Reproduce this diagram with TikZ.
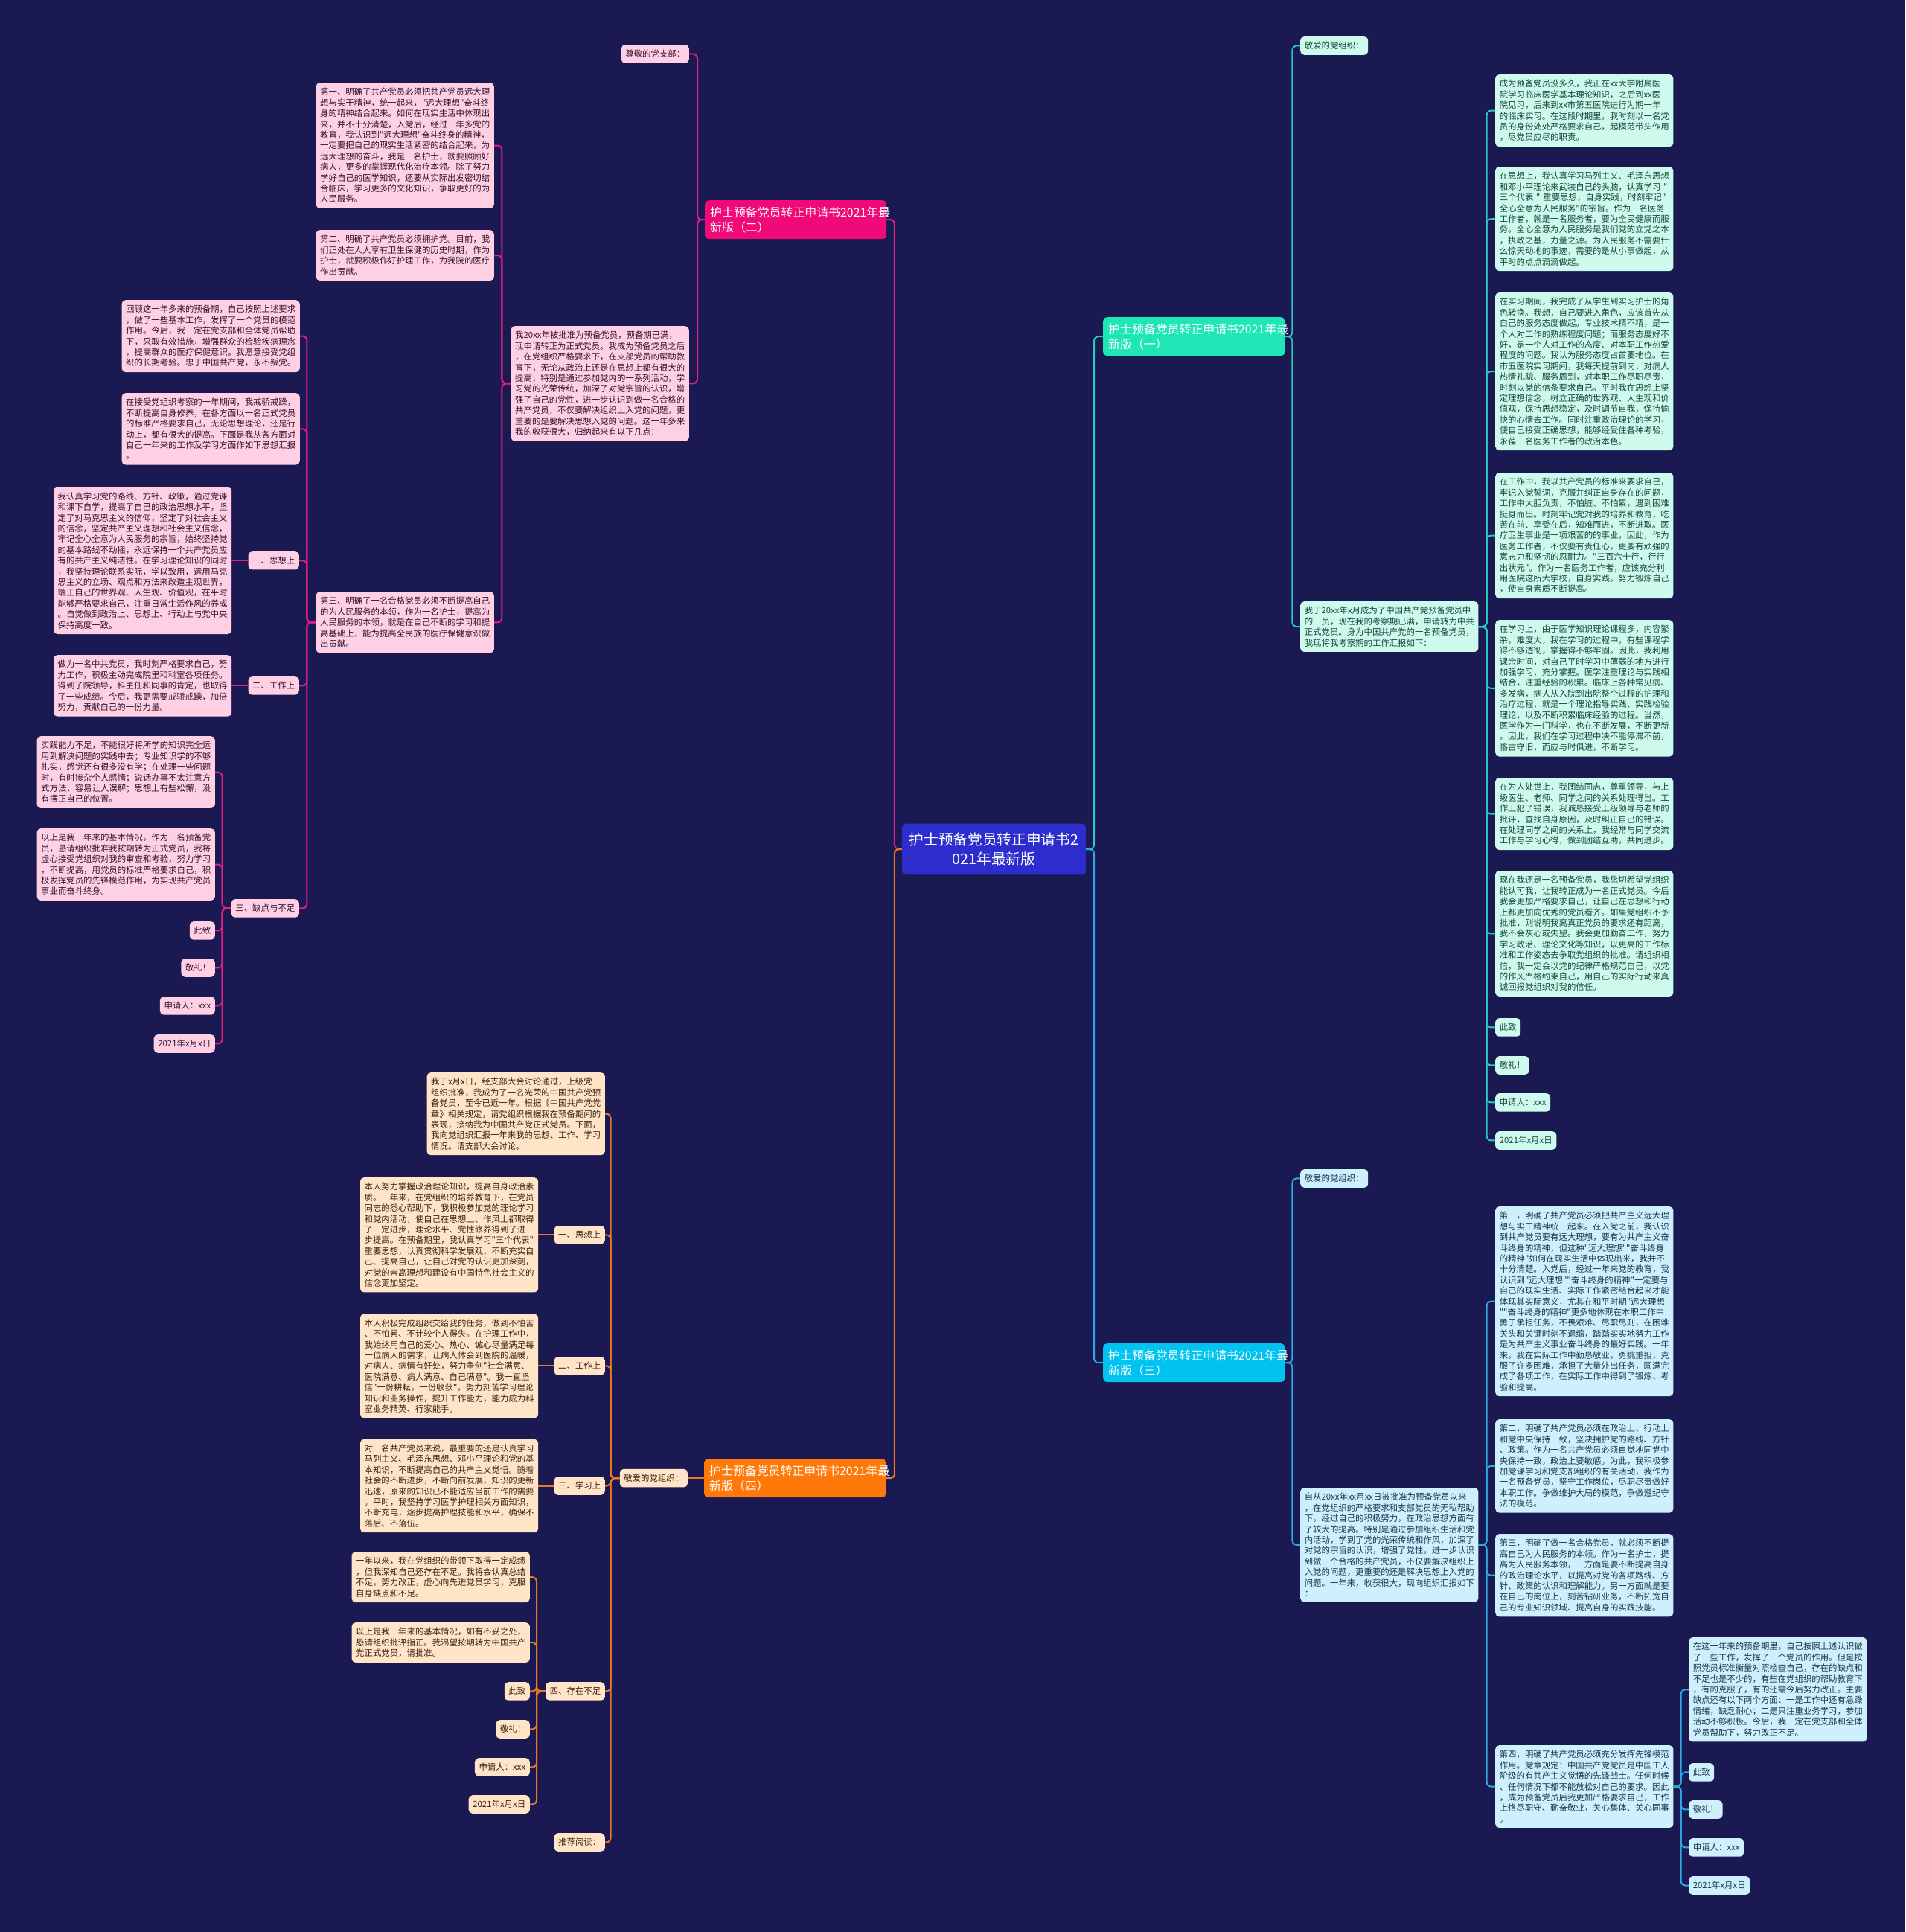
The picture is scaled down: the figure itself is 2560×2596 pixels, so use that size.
\documentclass[tikz,border=0pt]{standalone}
\usepackage{fontspec}
\newfontfamily\cjk{Noto Sans CJK SC}
\usetikzlibrary{positioning}
\definecolor{bgnavy}{RGB}{26,25,82}
\definecolor{rootblue}{RGB}{45,45,205}
\definecolor{pinkhead}{RGB}{240,10,120}
\definecolor{pinkline}{RGB}{225,30,130}
\definecolor{pinkfill}{RGB}{255,208,228}
\definecolor{pinktext}{RGB}{50,20,45}
\definecolor{tealhead}{RGB}{30,230,180}
\definecolor{tealline}{RGB}{40,200,190}
\definecolor{tealfill}{RGB}{205,250,236}
\definecolor{tealtext}{RGB}{25,70,60}
\definecolor{bluehead}{RGB}{0,195,240}
\definecolor{blueline}{RGB}{40,170,230}
\definecolor{bluefill}{RGB}{205,240,252}
\definecolor{bluetext}{RGB}{25,55,80}
\definecolor{orangehead}{RGB}{255,120,10}
\definecolor{orangeline}{RGB}{235,120,40}
\definecolor{orangefill}{RGB}{255,228,200}
\definecolor{orangetext}{RGB}{60,35,15}

\begin{document}
\begin{tikzpicture}[
  x=1pt, y=-1pt,
  rootbox/.style={fill=rootblue, rounded corners=5pt, inner xsep=9.5pt, inner ysep=12pt, align=center, text=white, font=\cjk\fontsize{19.7}{26.5}\selectfont},
  topicbox/.style={rounded corners=5pt, inner xsep=7pt, inner ysep=8.5pt, text width=230pt, align=left, text=white, font=\cjk\fontsize{15.9}{20}\selectfont},
  leafbox/.style={rounded corners=5pt, inner xsep=5.6pt, inner ysep=7pt, align=left, font=\cjk\fontsize{11.4}{14.4}\selectfont},
  parabox/.style={leafbox, text width=228pt},
  pinkbox/.style={fill=pinkfill, text=pinktext},
  tealbox/.style={fill=tealfill, text=tealtext},
  bluebox/.style={fill=bluefill, text=bluetext},
  orangebox/.style={fill=orangefill, text=orangetext},
  link/.style={line width=2pt, rounded corners=6pt}
]
  \fill[bgnavy] (0,0) rectangle (2560,2596);
  \useasboundingbox (0,0) rectangle (2560,2596);

  % centre and the four topics
  \node[rootbox] (ROOT) at (1335.5,1141) {护士预备党员转正申请书2\\021年最新版};
  \node[topicbox, fill=tealhead, anchor=north west] (B1) at (1482,426) {护士预备党员转正申请书2021年最\\新版（一）};
  \node[topicbox, fill=pinkhead, anchor=north west] (B2) at (947,269) {护士预备党员转正申请书2021年最\\新版（二）};
  \node[topicbox, fill=bluehead, anchor=north west] (B3) at (1482,1805) {护士预备党员转正申请书2021年最\\新版（三）};
  \node[topicbox, fill=orangehead, anchor=north west] (B4) at (946,1960) {护士预备党员转正申请书2021年最\\新版（四）};

  % (二)
  \node[leafbox, pinkbox, anchor=north east] (P1) at (926,60) {尊敬的党支部：};
  \node[parabox, pinkbox, anchor=north east] (P2) at (926,438) {我20xx年被批准为预备党员，预备期已满，\\现申请转正为正式党员。我成为预备党员之后\\，在党组织严格要求下，在支部党员的帮助教\\育下，无论从政治上还是在思想上都有很大的\\提高，特别是通过参加党内的一系列活动，学\\习党的光荣传统，加深了对党宗旨的认识，增\\强了自己的党性，进一步认识到做一名合格的\\共产党员，不仅要解决组织上入党的问题，更\\重要的是要解决思想入党的问题。这一年多来\\我的收获很大，归纳起来有以下几点：};
  \node[parabox, pinkbox, anchor=north east] (P3) at (664,111) {第一、明确了共产党员必须把共产党员远大理\\想与实干精神，统一起来，"远大理想"奋斗终\\身的精神结合起来。如何在现实生活中体现出\\来，并不十分清楚，入党后，经过一年多党的\\教育，我认识到"远大理想"奋斗终身的精神，\\一定要把自己的现实生活紧密的结合起来，为\\远大理想的奋斗，我是一名护士，就要照顾好\\病人，更多的掌握现代化治疗本领。除了努力\\学好自己的医学知识，还要从实际出发密切结\\合临床，学习更多的文化知识，争取更好的为\\人民服务。};
  \node[parabox, pinkbox, anchor=north east] (P4) at (664,309) {第二、明确了共产党员必须拥护党。目前，我\\们正处在人人享有卫生保健的历史时期，作为\\护士，就要积极作好护理工作，为我院的医疗\\作出贡献。};
  \node[parabox, pinkbox, anchor=north east] (P5) at (664,795) {第三、明确了一名合格党员必须不断提高自己\\的为人民服务的本领，作为一名护士，提高为\\人民服务的本领，就是在自己不断的学习和提\\高基础上，能为提高全民族的医疗保健意识做\\出贡献。};
  \node[parabox, pinkbox, anchor=north east] (P6) at (403,403) {回顾这一年多来的预备期，自己按照上述要求\\，做了一些基本工作，发挥了一个党员的模范\\作用。今后，我一定在党支部和全体党员帮助\\下，采取有效措施，增强群众的检验疾病理念\\，提高群众的医疗保健意识。我愿意接受党组\\织的长期考验。忠于中国共产党，永不叛党。};
  \node[parabox, pinkbox, anchor=north east] (P7) at (403,528) {在接受党组织考察的一年期间，我戒骄戒躁，\\不断提高自身修养，在各方面以一名正式党员\\的标准严格要求自己，无论思想理论，还是行\\动上，都有很大的提高。下面是我从各方面对\\自己一年来的工作及学习方面作如下思想汇报\\。};
  \node[leafbox, pinkbox, anchor=north east] (P8) at (402,741) {一、思想上};
  \node[parabox, pinkbox, left=22pt of P8] (P9) {我认真学习党的路线、方针、政策，通过党课\\和课下自学，提高了自己的政治思想水平，坚\\定了对马克思主义的信仰，坚定了对社会主义\\的信念，坚定共产主义理想和社会主义信念，\\牢记全心全意为人民服务的宗旨，始终坚持党\\的基本路线不动摇，永远保持一个共产党员应\\有的共产主义纯洁性。在学习理论知识的同时\\，我坚持理论联系实际，学以致用，运用马克\\思主义的立场、观点和方法来改造主观世界，\\端正自己的世界观、人生观、价值观，在平时\\能够严格要求自己，注重日常生活作风的养成\\。自觉做到政治上、思想上、行动上与党中央\\保持高度一致。};
  \node[leafbox, pinkbox, anchor=north east] (P10) at (402,909) {二、工作上};
  \node[parabox, pinkbox, left=22pt of P10] (P11) {做为一名中共党员，我时刻严格要求自己，努\\力工作，积极主动完成院里和科室各项任务。\\得到了院领导，科主任和同事的肯定，也取得\\了一些成绩。今后，我更需要戒骄戒躁，加倍\\努力，贡献自己的一份力量。};
  \node[leafbox, pinkbox, anchor=north east] (P12) at (402,1208) {三、缺点与不足};
  \node[parabox, pinkbox, anchor=north east] (P13) at (289,989) {实践能力不足，不能很好将所学的知识完全运\\用到解决问题的实践中去；专业知识学的不够\\扎实，感觉还有很多没有学；在处理一些问题\\时，有时掺杂个人感情；说话办事不太注意方\\式方法，容易让人误解；思想上有些松懈，没\\有摆正自己的位置。};
  \node[parabox, pinkbox, anchor=north east] (P14) at (289,1113) {以上是我一年来的基本情况，作为一名预备党\\员，恳请组织批准我按期转为正式党员，我将\\虚心接受党组织对我的审查和考验，努力学习\\，不断提高，用党员的标准严格要求自己，积\\极发挥党员的先锋模范作用，为实现共产党员\\事业而奋斗终身。};
  \node[leafbox, pinkbox, anchor=north east] (P15) at (289,1238) {此致};
  \node[leafbox, pinkbox, anchor=north east] (P16) at (289,1288) {敬礼！};
  \node[leafbox, pinkbox, anchor=north east] (P17) at (289,1339) {申请人：xxx};
  \node[leafbox, pinkbox, anchor=north east] (P18) at (289,1390) {2021年x月x日};

  % (一)
  \node[leafbox, tealbox, anchor=north west] (T1) at (1747,49) {敬爱的党组织：};
  \node[parabox, tealbox, anchor=north west] (T2) at (1747,808) {我于20xx年x月成为了中国共产党预备党员中\\的一员，现在我的考察期已满，申请转为中共\\正式党员。身为中国共产党的一名预备党员，\\我现将我考察期的工作汇报如下：};
  \node[parabox, tealbox, anchor=north west] (T3) at (2009,100) {成为预备党员没多久，我正在xx大学附属医\\院学习临床医学基本理论知识，之后到xx医\\院见习，后来到xx市第五医院进行为期一年\\的临床实习。在这段时期里，我时刻以一名党\\员的身份处处严格要求自己，起模范带头作用\\，尽党员应尽的职责。};
  \node[parabox, tealbox, anchor=north west] (T4) at (2009,224) {在思想上，我认真学习马列主义、毛泽东思想\\和邓小平理论来武装自己的头脑，认真学习 "\\三个代表 " 重要思想，自身实践，时刻牢记"\\全心全意为人民服务"的宗旨。作为一名医务\\工作者，就是一名服务者，要为全民健康而服\\务。全心全意为人民服务是我们党的立党之本\\，执政之基，力量之源。为人民服务不需要什\\么惊天动地的事迹，需要的是从小事做起，从\\平时的点点滴滴做起。};
  \node[parabox, tealbox, anchor=north west] (T5) at (2009,393) {在实习期间，我完成了从学生到实习护士的角\\色转换。我想，自己要进入角色，应该首先从\\自己的服务态度做起。专业技术精不精，是一\\个人对工作的熟练程度问题；而服务态度好不\\好，是一个人对工作的态度、对本职工作热爱\\程度的问题。我认为服务态度占首要地位。在\\市五医院实习期间，我每天提前到岗，对病人\\热情礼貌、服务周到，对本职工作尽职尽责，\\时刻以党的信条要求自己。平时我在思想上坚\\定理想信念，树立正确的世界观、人生观和价\\值观，保持思想稳定，及时调节自我，保持愉\\快的心情去工作。同时注重政治理论的学习，\\使自己接受正确思想，能够经受住各种考验，\\永葆一名医务工作者的政治本色。};
  \node[parabox, tealbox, anchor=north west] (T6) at (2009,635) {在工作中，我以共产党员的标准来要求自己，\\牢记入党誓词，克服并纠正自身存在的问题，\\工作中大胆负责，不怕脏、不怕累，遇到困难\\挺身而出。时刻牢记党对我的培养和教育，吃\\苦在前、享受在后，知难而进，不断进取。医\\疗卫生事业是一项艰苦的的事业，因此，作为\\医务工作者，不仅要有责任心，更要有顽强的\\意志力和坚韧的忍耐力。"三百六十行，行行\\出状元"。作为一名医务工作者，应该充分利\\用医院这所大学校，自身实践，努力锻炼自己\\，使自身素质不断提高。};
  \node[parabox, tealbox, anchor=north west] (T7) at (2009,833) {在学习上，由于医学知识理论课程多，内容繁\\杂，难度大，我在学习的过程中，有些课程学\\得不够透彻，掌握得不够牢固。因此，我利用\\课余时间，对自己平时学习中薄弱的地方进行\\加强学习，充分掌握。医学注重理论与实践相\\结合，注重经验的积累。临床上各种常见病、\\多发病，病人从入院到出院整个过程的护理和\\治疗过程，就是一个理论指导实践、实践检验\\理论，以及不断积累临床经验的过程。当然，\\医学作为一门科学，也在不断发展，不断更新\\。因此，我们在学习过程中决不能停滞不前，\\恪古守旧，而应与时俱进，不断学习。};
  \node[parabox, tealbox, anchor=north west] (T8) at (2009,1045) {在为人处世上，我团结同志，尊重领导，与上\\级医生、老师、同学之间的关系处理得当。工\\作上犯了错误，我诚恳接受上级领导与老师的\\批评，查找自身原因，及时纠正自己的错误。\\在处理同学之间的关系上，我经常与同学交流\\工作与学习心得，做到团结互助，共同进步。};
  \node[parabox, tealbox, anchor=north west] (T9) at (2009,1170) {现在我还是一名预备党员，我恳切希望党组织\\能认可我，让我转正成为一名正式党员。今后\\我会更加严格要求自己，让自己在思想和行动\\上都更加向优秀的党员看齐。如果党组织不予\\批准，则说明我离真正党员的要求还有距离，\\我不会灰心或失望。我会更加勤奋工作，努力\\学习政治、理论文化等知识，以更高的工作标\\准和工作姿态去争取党组织的批准。请组织相\\信，我一定会以党的纪律严格规范自己，以党\\的作风严格约束自己，用自己的实际行动来真\\诚回报党组织对我的信任。};
  \node[leafbox, tealbox, anchor=north west] (T10) at (2009,1368) {此致};
  \node[leafbox, tealbox, anchor=north west] (T11) at (2009,1419) {敬礼！};
  \node[leafbox, tealbox, anchor=north west] (T12) at (2009,1469) {申请人：xxx};
  \node[leafbox, tealbox, anchor=north west] (T13) at (2009,1520) {2021年x月x日};

  % (三)
  \node[leafbox, bluebox, anchor=north west] (U1) at (1747,1571) {敬爱的党组织：};
  \node[parabox, bluebox, anchor=north west] (U2) at (1747,1999) {自从20xx年xx月xx日被批准为预备党员以来\\，在党组织的严格要求和支部党员的无私帮助\\下，经过自己的积极努力，在政治思想方面有\\了较大的提高。特别是通过参加组织生活和党\\内活动，学到了党的光荣传统和作风，加深了\\对党的宗旨的认识，增强了党性，进一步认识\\到做一个合格的共产党员，不仅要解决组织上\\入党的问题，更重要的还是解决思想上入党的\\问题。一年来，收获很大，现向组织汇报如下\\：};
  \node[parabox, bluebox, anchor=north west] (U3) at (2009,1621) {第一，明确了共产党员必须把共产主义远大理\\想与实干精神统一起来。在入党之前，我认识\\到共产党员要有远大理想，要有为共产主义奋\\斗终身的精神，但这种"远大理想""奋斗终身\\的精神"如何在现实生活中体现出来，我并不\\十分清楚。入党后，经过一年来党的教育，我\\认识到"远大理想""奋斗终身的精神"一定要与\\自己的现实生活、实际工作紧密结合起来才能\\体现其实际意义，尤其在和平时期"远大理想\\""奋斗终身的精神"更多地体现在本职工作中\\勇于承担任务，不畏艰难、尽职尽则，在困难\\关头和关键时刻不退缩，踏踏实实地努力工作\\是为共产主义事业奋斗终身的最好实践。一年\\来，我在实际工作中勤恳敬业，勇挑重担，克\\服了许多困难，承担了大量外出任务，圆满完\\成了各项工作，在实际工作中得到了锻炼、考\\验和提高。};
  \node[parabox, bluebox, anchor=north west] (U4) at (2009,1907) {第二，明确了共产党员必须在政治上、行动上\\和党中央保持一致，坚决拥护党的路线、方针\\、政策。作为一名共产党员必须自觉地同党中\\央保持一致，政治上要敏感。为此，我积极参\\加党课学习和党支部组织的有关活动，我作为\\一名预备党员，坚守工作岗位，尽职尽责做好\\本职工作。争做维护大局的模范，争做遵纪守\\法的模范。};
  \node[parabox, bluebox, anchor=north west] (U5) at (2009,2061) {第三，明确了做一名合格党员，就必须不断提\\高自己为人民服务的本领。作为一名护士，提\\高为人民服务本领，一方面是要不断提高自身\\的政治理论水平，以提高对党的各项路线、方\\针、政策的认识和理解能力。另一方面就是要\\在自己的岗位上，刻苦钻研业务，不断拓宽自\\己的专业知识领域、提高自身的实践技能。};
  \node[parabox, bluebox, anchor=north west] (U6) at (2009,2345) {第四，明确了共产党员必须充分发挥先锋模范\\作用。党章规定：中国共产党党员是中国工人\\阶级的有共产主义觉悟的先锋战士。任何时候\\、任何情况下都不能放松对自己的要求。因此\\，成为预备党员后我更加严格要求自己，工作\\上恪尽职守、勤奋敬业，关心集体、关心同事\\。};
  \node[parabox, bluebox, anchor=north west] (U7) at (2269,2200) {在这一年来的预备期里，自己按照上述认识做\\了一些工作，发挥了一个党员的作用。但是按\\照党员标准衡量对照检查自己，存在的缺点和\\不足也是不少的，有些在党组织的帮助教育下\\，有的克服了，有的还需今后努力改正。主要\\缺点还有以下两个方面：一是工作中还有急躁\\情绪，缺乏耐心；二是只注重业务学习，参加\\活动不够积极。今后，我一定在党支部和全体\\党员帮助下，努力改正不足。};
  \node[leafbox, bluebox, anchor=north west] (U8) at (2269,2369) {此致};
  \node[leafbox, bluebox, anchor=north west] (U9) at (2269,2419) {敬礼！};
  \node[leafbox, bluebox, anchor=north west] (U10) at (2269,2470) {申请人：xxx};
  \node[leafbox, bluebox, anchor=north west] (U11) at (2269,2521) {2021年x月x日};

  % (四)
  \node[leafbox, orangebox, left=22pt of B4] (O1) {敬爱的党组织：};
  \node[parabox, orangebox, anchor=north east] (O2) at (813,1441) {我于x月x日，经支部大会讨论通过，上级党\\组织批准，我成为了一名光荣的中国共产党预\\备党员，至今已近一年。根据《中国共产党党\\章》相关规定，请党组织根据我在预备期间的\\表现，接纳我为中国共产党正式党员。下面，\\我向党组织汇报一年来我的思想、工作、学习\\情况。请支部大会讨论。};
  \node[leafbox, orangebox, anchor=north east] (O3) at (813,1647) {一、思想上};
  \node[parabox, orangebox, left=21pt of O3] (O4) {本人努力掌握政治理论知识，提高自身政治素\\质。一年来，在党组织的培养教育下，在党员\\同志的悉心帮助下，我积极参加党的理论学习\\和党内活动，使自己在思想上、作风上都取得\\了一定进步，理论水平、党性修养得到了进一\\步提高。在预备期里，我认真学习"三个代表"\\重要思想，认真贯彻科学发展观，不断充实自\\己、提高自己，让自己对党的认识更加深刻，\\对党的崇高理想和建设有中国特色社会主义的\\信念更加坚定。};
  \node[leafbox, orangebox, anchor=north east] (O5) at (813,1823) {二、工作上};
  \node[parabox, orangebox, left=21pt of O5] (O6) {本人积极完成组织交给我的任务，做到不怕苦\\、不怕累、不计较个人得失。在护理工作中，\\我始终用自己的爱心、热心、诚心尽量满足每\\一位病人的需求，让病人体会到医院的温暖，\\对病人、病情有好处，努力争创"社会满意、\\医院满意、病人满意、自己满意"。我一直坚\\信"一份耕耘，一份收获"，努力刻苦学习理论\\知识和业务操作，提升工作能力，能力成为科\\室业务精英、行家能手。};
  \node[leafbox, orangebox, anchor=north east] (O7) at (813,1984) {三、学习上};
  \node[parabox, orangebox, left=21pt of O7] (O8) {对一名共产党员来说，最重要的还是认真学习\\马列主义、毛泽东思想、邓小平理论和党的基\\本知识，不断提高自己的共产主义觉悟。随着\\社会的不断进步，不断向前发展，知识的更新\\迅速，原来的知识已不能适应当前工作的需要\\。平时，我坚持学习医学护理相关方面知识，\\不断充电，逐步提高护理技能和水平，确保不\\落后、不落伍。};
  \node[leafbox, orangebox, anchor=north east] (O9) at (813,2260) {四、存在不足};
  \node[parabox, orangebox, anchor=north east] (O10) at (712,2085) {一年以来，我在党组织的带领下取得一定成绩\\，但我深知自己还存在不足。我将会认真总结\\不足，努力改正，虚心向先进党员学习，克服\\自身缺点和不足。};
  \node[parabox, orangebox, anchor=north east] (O11) at (712,2180) {以上是我一年来的基本情况，如有不妥之处，\\恳请组织批评指正。我渴望按期转为中国共产\\党正式党员，请批准。};
  \node[leafbox, orangebox, anchor=north east] (O12) at (712,2260) {此致};
  \node[leafbox, orangebox, anchor=north east] (O13) at (712,2311) {敬礼！};
  \node[leafbox, orangebox, anchor=north east] (O14) at (712,2362) {申请人：xxx};
  \node[leafbox, orangebox, anchor=north east] (O15) at (712,2412) {2021年x月x日};
  \node[leafbox, orangebox, anchor=north east] (O16) at (813,2463) {推荐阅读：};

  % connectors
  \foreach \t/\c in {B2/pinkline, B4/orangeline}
    \draw[link, \c] (ROOT.west) -- ++(-10,0) |- (\t.east);
  \foreach \t/\c in {B1/tealline, B3/blueline}
    \draw[link, \c] (ROOT.east) -- ++(11,0) |- (\t.west);

  \foreach \c in {P1,P2}
    \draw[link, pinkline] (B2.west) -- ++(-10,0) |- (\c.east);
  \foreach \c in {P3,P4,P5}
    \draw[link, pinkline] (P2.west) -- ++(-12,0) |- (\c.east);
  \foreach \c in {P6,P7,P8,P10,P12}
    \draw[link, pinkline] (P5.west) -- ++(-12,0) |- (\c.east);
  \draw[link, pinkline] (P8.west) -- (P9.east);
  \draw[link, pinkline] (P10.west) -- (P11.east);
  \foreach \c in {P13,P14,P15,P16,P17,P18}
    \draw[link, pinkline] (P12.west) -- ++(-12,0) |- (\c.east);

  \foreach \c in {T1,T2}
    \draw[link, tealline] (B1.east) -- ++(10,0) |- (\c.west);
  \foreach \c in {T3,T4,T5,T6,T7,T8,T9,T10,T11,T12,T13}
    \draw[link, tealline] (T2.east) -- ++(11,0) |- (\c.west);

  \foreach \c in {U1,U2}
    \draw[link, blueline] (B3.east) -- ++(10,0) |- (\c.west);
  \foreach \c in {U3,U4,U5,U6}
    \draw[link, blueline] (U2.east) -- ++(11,0) |- (\c.west);
  \foreach \c in {U7,U8,U9,U10,U11}
    \draw[link, blueline] (U6.east) -- ++(10,0) |- (\c.west);

  \draw[link, orangeline] (B4.west) -- (O1.east);
  \foreach \c in {O2,O3,O5,O7,O9,O16}
    \draw[link, orangeline] (O1.west) -- ++(-12,0) |- (\c.east);
  \draw[link, orangeline] (O3.west) -- (O4.east);
  \draw[link, orangeline] (O5.west) -- (O6.east);
  \draw[link, orangeline] (O7.west) -- (O8.east);
  \foreach \c in {O10,O11,O12,O13,O14,O15}
    \draw[link, orangeline] (O9.west) -- ++(-12,0) |- (\c.east);
\end{tikzpicture}
\end{document}
